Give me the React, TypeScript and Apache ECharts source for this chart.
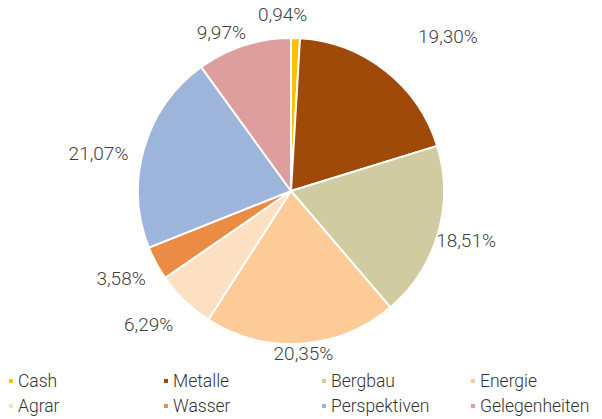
import React, { useEffect, useRef } from "react";
import * as echarts from "echarts";

const categories = ["Cash", "Metalle", "Bergbau", "Energie", "Agrar", "Wasser", "Perspektiven", "Gelegenheiten"];
const shares = [0.94, 19.3, 18.51, 20.35, 6.29, 3.58, 21.07, 9.97];
const colors = ["#FFC000", "#A04A0A", "#D0CBA1", "#FCCB97", "#FDE0C2", "#EA8C43", "#9EB5DB", "#DE9E9E"];
// label placement: radial distance of the label centre from the pie centre (px)
// and angular shift from the slice's mid angle (degrees)
const labelDistances = [177, 220, 182, 163, 195, 191, 196, 173];
const labelAngleShifts = [-4.4, 7.4, -0.3, -0.5, 2.8, 1.0, -5.3, -5.8];

const CX = 291;
const CY = 191;
const R = 153;
const FONT = "Roboto, 'Open Sans', sans-serif";
const legendColumns = [7, 162, 320, 469];
const legendRows = [372, 397];

export default function App() {
  const ref = useRef<HTMLDivElement>(null);
  useEffect(() => {
    document.body.style.margin = "0";
    const chart = echarts.init(ref.current!, null, { renderer: "svg" });
    const total = shares.reduce((a, b) => a + b, 0);
    const cum: number[] = [];
    let acc = 0;
    shares.forEach((v) => {
      cum.push(acc);
      acc += v;
    });
    const fmt = (v: number) => v.toFixed(2).replace(".", ",") + "%";
    const legends = categories.map((name, i) => ({
      icon: "rect",
      itemWidth: 6,
      itemHeight: 6,
      itemGap: 0,
      padding: 0,
      left: legendColumns[i % 4],
      top: legendRows[Math.floor(i / 4)],
      data: [name],
      textStyle: { fontFamily: FONT, fontSize: 17.5, fontWeight: 300, color: "#333333", lineHeight: 18, padding: [0, 0, 0, -1] },
    }));
    chart.setOption({
      animation: false,
      color: colors,
      legend: legends,
      series: [
        {
          type: "pie",
          center: [CX, CY],
          radius: [0, R],
          startAngle: 90,
          clockwise: true,
          avoidLabelOverlap: false,
          itemStyle: { borderColor: "#ffffff", borderWidth: 2 },
          label: {
            show: true,
            position: "outside",
            formatter: (p: any) => fmt(p.value),
            fontFamily: FONT,
            fontSize: 19,
            fontWeight: 300,
            color: "#404040",
          },
          labelLine: { show: false },
          labelLayout: (params: any) => {
            const i = params.dataIndex;
            const mid = ((cum[i] + shares[i] / 2) / total) * Math.PI * 2 + (labelAngleShifts[i] * Math.PI) / 180;
            const d = labelDistances[i];
            return {
              x: CX + d * Math.sin(mid),
              y: CY - d * Math.cos(mid),
              align: "center",
              verticalAlign: "middle",
            };
          },
          emphasis: { disabled: true },
          data: categories.map((name, i) => ({ name, value: shares[i] })),
        },
      ],
    });
    return () => chart.dispose();
  }, []);
  return <div ref={ref} style={{ width: 602, height: 419 }} />;
}
